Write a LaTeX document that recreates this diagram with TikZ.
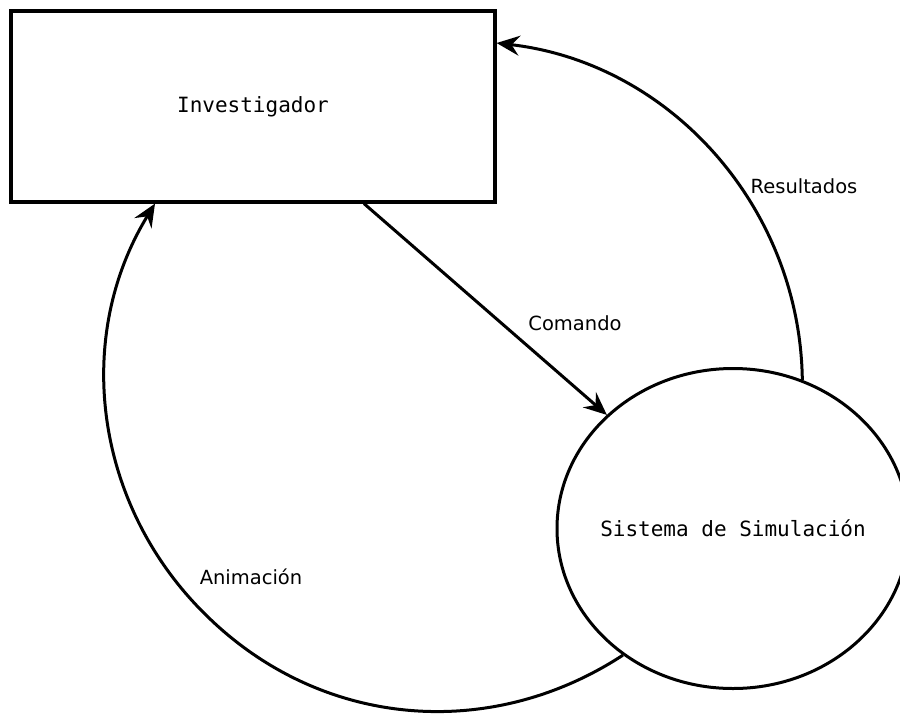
\documentclass[tikz,border=0pt]{standalone}
\usepackage{fontspec}
\setmainfont{DejaVu Sans}
\newfontfamily\monofont{DejaVu Sans Mono}
\usetikzlibrary{arrows.meta,shapes.geometric}
\begin{document}
\begin{tikzpicture}[x=1pt,y=-1pt,
  box/.style={draw, line width=3.2pt, rectangle, minimum width=484pt, minimum height=191pt, inner sep=0pt, font=\monofont\fontsize{21}{25}\selectfont},
  ell/.style={draw, line width=3pt, ellipse, minimum width=352pt, minimum height=320pt, inner sep=0pt, font=\monofont\fontsize{21}{25}\selectfont},
  conn/.style={line width=3pt, -{Stealth[length=23pt,width=20pt,inset=8pt]}},
  lbl/.style={font=\fontsize{19.5}{23}\selectfont, inner sep=0pt}
]
\useasboundingbox (0,0) rectangle (900,713);
\node[box] (inv) at (253,106.5) {Investigador};
\node[ell] (sim) at (733,528.5) {\makebox[0pt]{Sistema de Simulación}};
\draw[conn] (inv.south -| 364,0) -- (sim.138.4);
\draw[conn] (sim.65.7) .. controls (800,208) and (671,63) .. (inv.east |- 0,43);
\draw[conn] (sim.229.4) .. controls (490,742) and (322,728) .. (208,617)
  .. controls (95,508) and (72,339) .. (inv.south -| 155,0);
\node[lbl] (lcom) at (575,323) {Comando};
\node[lbl] (lres) at (804,186) {Resultados};
\node[lbl] (lani) at (251,577) {Animación};
\end{tikzpicture}
\end{document}
